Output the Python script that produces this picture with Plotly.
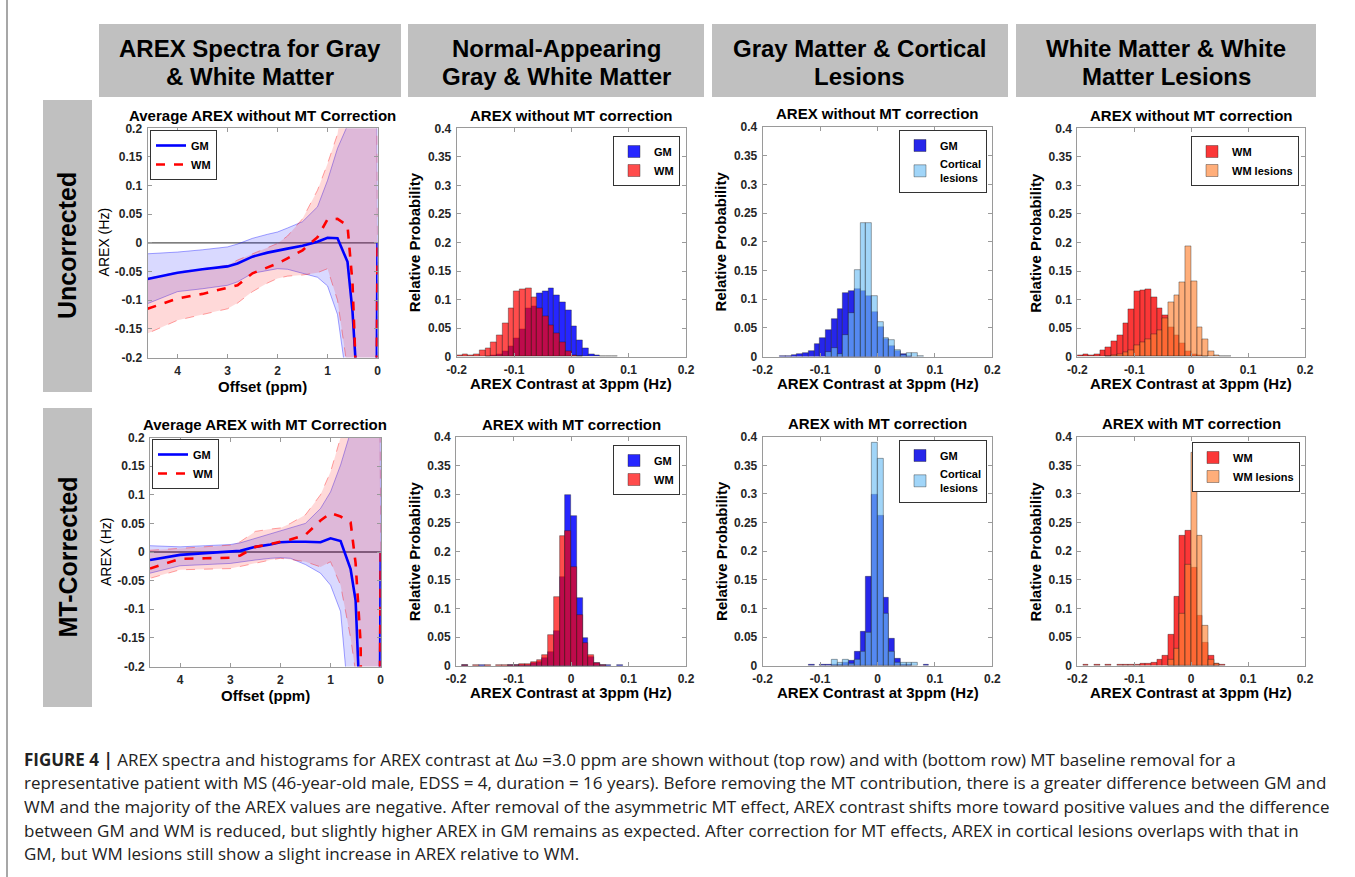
import plotly.graph_objects as go

W, H = 1355, 877
FONT = "Liberation Sans, Arial, sans-serif"
CAP_FONT = "Open Sans, Liberation Sans, Arial, sans-serif"

# ---------------- AREX spectra data (offset in ppm) ----------------
OFFSET_PPM = [4.6, 4.0, 3.5, 3.0, 2.8, 2.5, 2.2, 2.0, 1.8, 1.5, 1.2, 1.0, 0.8, 0.6, 0.5, 0.4, 0.2, 0.0]

GM_MEAN_UNC = [-0.063, -0.052, -0.046, -0.041, -0.036, -0.024, -0.017, -0.013, -0.010, -0.005, 0.002, 0.009, 0.008, -0.033, -0.120, -0.260, -3.0, 0.0]
GM_UPPER_UNC = [-0.019, -0.016, -0.012, -0.007, -0.002, 0.008, 0.015, 0.019, 0.026, 0.037, 0.063, 0.109, 0.165, 0.205, 0.40, 0.80, 5.0, 0.0]
GM_LOWER_UNC = [-0.106, -0.085, -0.080, -0.074, -0.068, -0.053, -0.048, -0.045, -0.046, -0.053, -0.060, -0.075, -0.125, -0.25, -0.45, -0.80, -5.0, 0.0]
WM_MEAN_UNC = [-0.115, -0.097, -0.089, -0.078, -0.074, -0.053, -0.042, -0.036, -0.027, -0.013, 0.010, 0.041, 0.042, 0.030, -0.070, -0.300, -3.0, 0.0]
WM_UPPER_UNC = [-0.062, -0.051, -0.045, -0.039, -0.030, -0.019, -0.008, -0.001, 0.012, 0.042, 0.092, 0.138, 0.190, 0.30, 0.45, 0.80, 5.0, 0.0]
WM_LOWER_UNC = [-0.158, -0.135, -0.125, -0.115, -0.105, -0.085, -0.070, -0.062, -0.058, -0.056, -0.052, -0.045, -0.100, -0.22, -0.45, -0.80, -5.0, 0.0]

GM_MEAN_COR = [-0.014, -0.005, -0.002, 0.000, 0.002, 0.009, 0.013, 0.017, 0.018, 0.018, 0.017, 0.024, 0.019, -0.030, -0.085, -0.300, -3.0, 0.0]
GM_UPPER_COR = [0.011, 0.009, 0.011, 0.013, 0.016, 0.024, 0.032, 0.038, 0.042, 0.050, 0.076, 0.105, 0.152, 0.21, 0.40, 0.80, 5.0, 0.0]
GM_LOWER_COR = [-0.037, -0.024, -0.022, -0.020, -0.018, -0.014, -0.011, -0.010, -0.011, -0.022, -0.037, -0.058, -0.104, -0.30, -0.45, -0.80, -5.0, 0.0]
WM_MEAN_COR = [-0.029, -0.012, -0.011, -0.010, -0.006, 0.009, 0.014, 0.018, 0.022, 0.030, 0.055, 0.068, 0.062, 0.052, -0.020, -0.160, -3.0, 0.0]
WM_UPPER_COR = [0.003, 0.006, 0.009, 0.012, 0.018, 0.036, 0.040, 0.042, 0.050, 0.065, 0.100, 0.140, 0.200, 0.30, 0.45, 0.80, 5.0, 0.0]
WM_LOWER_COR = [-0.046, -0.031, -0.030, -0.029, -0.026, -0.020, -0.014, -0.011, -0.013, -0.017, -0.026, -0.017, -0.058, -0.15, -0.21, -0.80, -5.0, 0.0]

# ---------------- Histogram data (bin left edges, bin width 0.01 Hz) ----------------
BIN_LEFT = [-0.20, -0.19, -0.18, -0.17, -0.16, -0.15, -0.14, -0.13, -0.12, -0.11,
            -0.10, -0.09, -0.08, -0.07, -0.06, -0.05, -0.04, -0.03, -0.02, -0.01,
            0.00, 0.01, 0.02, 0.03, 0.04, 0.05, 0.06, 0.07, 0.08, 0.09]
BIN_WIDTH = 0.01

# Normal-appearing GM / WM
NA_GM_UNC = [0, 0, 0, 0, 0, 0.001, 0.002, 0.005, 0.010, 0.018, 0.032, 0.048, 0.084, 0.088, 0.111, 0.114, 0.120, 0.108, 0.096, 0.081, 0.053, 0.029, 0.015, 0.005, 0.002, 0.001, 0.001, 0.001, 0, 0]
NA_WM_UNC = [0.002, 0.005, 0.003, 0.005, 0.012, 0.015, 0.026, 0.038, 0.058, 0.084, 0.115, 0.118, 0.119, 0.104, 0.084, 0.071, 0.055, 0.041, 0.025, 0.009, 0.003, 0.001, 0, 0, 0, 0, 0, 0, 0, 0]
NA_GM_COR = [0, 0.001, 0, 0, 0.001, 0, 0, 0, 0, 0.001, 0.001, 0.002, 0.002, 0.004, 0.007, 0.014, 0.024, 0.060, 0.155, 0.298, 0.262, 0.118, 0.048, 0.015, 0.004, 0.002, 0.001, 0, 0.001, 0]
NA_WM_COR = [0, 0.001, 0, 0.001, 0, 0.001, 0, 0.001, 0.001, 0.002, 0.002, 0.003, 0.003, 0.006, 0.010, 0.018, 0.054, 0.120, 0.227, 0.236, 0.172, 0.088, 0.040, 0.018, 0.004, 0.002, 0, 0, 0, 0]

# GM / cortical lesions
GC_GM_UNC = [0, 0, 0, 0.001, 0.001, 0.002, 0.004, 0.006, 0.010, 0.021, 0.032, 0.047, 0.065, 0.083, 0.110, 0.114, 0.118, 0.115, 0.105, 0.078, 0.052, 0.030, 0.019, 0.010, 0.004, 0.001, 0, 0, 0, 0]
CL_UNC = [0, 0, 0, 0, 0, 0, 0, 0, 0, 0, 0, 0.008, 0.015, 0.004, 0.038, 0.075, 0.150, 0.232, 0.232, 0.106, 0.060, 0.033, 0.029, 0.012, 0.003, 0.006, 0.006, 0.001, 0, 0]
GC_GM_COR = [0, 0, 0, 0, 0, 0, 0, 0, 0.001, 0, 0.001, 0.001, 0.001, 0.002, 0.005, 0.009, 0.024, 0.060, 0.155, 0.298, 0.262, 0.118, 0.048, 0.013, 0.002, 0.001, 0, 0, 0.001, 0]
CL_COR = [0, 0, 0, 0, 0, 0, 0, 0, 0, 0, 0, 0, 0.010, 0.005, 0.010, 0.004, 0.010, 0.024, 0.058, 0.390, 0.362, 0.091, 0.024, 0.006, 0.006, 0.006, 0.006, 0, 0, 0]

# WM / WM lesions
WW_WM_UNC = [0.002, 0.004, 0.002, 0.005, 0.011, 0.016, 0.027, 0.038, 0.058, 0.083, 0.115, 0.117, 0.118, 0.104, 0.085, 0.072, 0.052, 0.038, 0.024, 0.010, 0.005, 0.003, 0.001, 0, 0, 0, 0, 0, 0, 0]
WML_UNC = [0, 0, 0, 0, 0, 0.001, 0.002, 0.004, 0.007, 0.012, 0.020, 0.026, 0.030, 0.040, 0.047, 0.068, 0.095, 0.107, 0.130, 0.194, 0.132, 0.052, 0.030, 0.010, 0.003, 0.001, 0.001, 0, 0, 0]
WW_WM_COR = [0, 0.001, 0, 0.001, 0, 0.001, 0, 0.001, 0.001, 0.002, 0.002, 0.003, 0.003, 0.006, 0.010, 0.018, 0.054, 0.120, 0.227, 0.236, 0.172, 0.088, 0.040, 0.018, 0.004, 0.002, 0, 0, 0, 0]
WML_COR = [0, 0, 0, 0, 0, 0, 0, 0, 0, 0, 0, 0, 0, 0, 0, 0, 0.010, 0.030, 0.090, 0.177, 0.372, 0.227, 0.070, 0.010, 0.003, 0, 0, 0, 0, 0]

# ---------------- text ----------------
HEADERS = [("AREX Spectra for Gray", "& White Matter"), ("Normal-Appearing", "Gray & White Matter"),
           ("Gray Matter & Cortical", "Lesions"), ("White Matter & White", "Matter Lesions")]
ROW_LABELS = ["Uncorrected", "MT-Corrected"]
PANEL_TITLES = ["Average AREX without MT Correction", "AREX without MT correction",
                "AREX without MT correction", "AREX without MT correction",
                "Average AREX with MT Correction", "AREX with MT correction",
                "AREX with MT correction", "AREX with MT correction"]
CAPTION = [
    "<b>FIGURE 4 |</b> AREX spectra and histograms for AREX contrast at \u0394\u03c9 =3.0 ppm are shown without (top row) and with (bottom row) MT baseline removal for a",
    "representative patient with MS (46-year-old male, EDSS = 4, duration = 16 years). Before removing the MT contribution, there is a greater difference between GM and",
    "WM and the majority of the AREX values are negative. After removal of the asymmetric MT effect, AREX contrast shifts more toward positive values and the difference",
    "between GM and WM is reduced, but slightly higher AREX in GM remains as expected. After correction for MT effects, AREX in cortical lesions overlaps with that in",
    "GM, but WM lesions still show a slight increase in AREX relative to WM.",
]
SPEC_YTICKS = [-0.2, -0.15, -0.1, -0.05, 0, 0.05, 0.1, 0.15, 0.2]
SPEC_YTICKTEXT = ["-0.2", "-0.15", "-0.1", "-0.05", "0", "0.05", "0.1", "0.15", "0.2"]
SPEC_XTICKS = [4, 3, 2, 1, 0]
HIST_YTICKS = [0, 0.05, 0.1, 0.15, 0.2, 0.25, 0.3, 0.35, 0.4]
HIST_YTICKTEXT = ["0", "0.05", "0.1", "0.15", "0.2", "0.25", "0.3", "0.35", "0.4"]
HIST_XTICKS = [-0.2, -0.1, 0, 0.1, 0.2]
HIST_XTICKTEXT = ["-0.2", "-0.1", "0", "0.1", "0.2"]

# ---------------- layout geometry (pixels) ----------------
BOXES = {
    1: (147.5, 377.5, 128.3, 357.5),
    2: (456.7, 686.0, 128.3, 356.7),
    3: (762.7, 992.3, 127.0, 356.5),
    4: (1077.3, 1305.0, 128.3, 356.7),
    5: (150.0, 380.7, 437.5, 666.5),
    6: (456.0, 686.0, 437.0, 665.7),
    7: (762.7, 992.3, 436.7, 665.7),
    8: (1077.3, 1305.0, 436.7, 665.7),
}


def sx(v):
    return v / W


def sy(v):
    return 1 - v / H


def sfx(k):
    return "" if k == 1 else str(k)


fig = go.Figure()

AX_LINE = "#9a9a9a"
TICKFONT = dict(family=FONT, size=12, color="#262626", weight="bold")
layout_axes = {}
for k, (l, r, t, b) in BOXES.items():
    s = sfx(k)
    common = dict(showline=True, linecolor=AX_LINE, linewidth=1, mirror="ticks",
                  ticks="inside", ticklen=4, tickcolor=AX_LINE, showgrid=False,
                  zeroline=False, tickfont=TICKFONT, fixedrange=True, automargin=False)
    if k in (1, 5):
        xa = dict(range=[4.6, 0], tickvals=SPEC_XTICKS, **common)
        ya = dict(range=[-0.2, 0.2], tickvals=SPEC_YTICKS, ticktext=SPEC_YTICKTEXT, **common)
    else:
        xa = dict(range=[-0.2, 0.2], tickvals=HIST_XTICKS, ticktext=HIST_XTICKTEXT, **common)
        ya = dict(range=[0, 0.4], tickvals=HIST_YTICKS, ticktext=HIST_YTICKTEXT, **common)
    xa.update(domain=[sx(l), sx(r)], anchor="y" + s, ticklabelstandoff=2)
    ya.update(domain=[sy(b), sy(t)], anchor="x" + s, ticklabelstandoff=2)
    layout_axes["xaxis" + s] = xa
    layout_axes["yaxis" + s] = ya


def add_spectra(k, gm_mean, gm_up, gm_lo, wm_mean, wm_up, wm_lo, legend_id):
    s = sfx(k)
    ax = dict(xaxis="x" + s, yaxis="y" + s)
    band_x = OFFSET_PPM + OFFSET_PPM[::-1]
    fig.add_trace(go.Scatter(x=band_x, y=gm_up + gm_lo[::-1], mode="lines", fill="toself",
                             fillcolor="rgba(0,0,255,0.15)",
                             line=dict(color="rgba(0,0,255,0.45)", width=0.8),
                             showlegend=False, hoverinfo="skip", **ax))
    fig.add_trace(go.Scatter(x=band_x, y=wm_up + wm_lo[::-1], mode="lines", fill="toself",
                             fillcolor="rgba(255,0,0,0.15)",
                             line=dict(color="rgba(255,0,0,0.45)", width=0.8, dash="dash"),
                             showlegend=False, hoverinfo="skip", **ax))
    fig.add_trace(go.Scatter(x=OFFSET_PPM, y=gm_mean, mode="lines", name="GM",
                             line=dict(color="#0000ff", width=2.6), legend=legend_id, **ax))
    fig.add_trace(go.Scatter(x=OFFSET_PPM, y=wm_mean, mode="lines", name="WM",
                             line=dict(color="#ff0000", width=2.6, dash="dash"),
                             legend=legend_id, **ax))
    fig.add_shape(type="line", xref="x" + s + " domain", yref="y" + s, x0=0, x1=1, y0=0, y1=0,
                  line=dict(color="#555555", width=1.3), layer="below")


EDGE = dict(color="rgba(30,30,30,0.55)", width=0.7)


def add_hist(k, a_vals, a_name, a_color, b_vals, b_name, b_color, legend_id):
    s = sfx(k)
    for vals, name, color in ((a_vals, a_name, a_color), (b_vals, b_name, b_color)):
        fig.add_trace(go.Bar(x=BIN_LEFT, y=[v if v > 0 else None for v in vals],
                             width=BIN_WIDTH, offset=0, name=name,
                             marker=dict(color=color, line=EDGE), legend=legend_id,
                             hoverinfo="skip", xaxis="x" + s, yaxis="y" + s))


BLUE = "rgba(0,0,255,0.85)"
RED = "rgba(255,0,0,0.7)"
DARKBLUE = "rgba(0,0,230,0.85)"
LIGHTBLUE = "rgba(110,190,245,0.65)"
WMRED = "rgba(250,20,20,0.85)"
ORANGE = "rgba(255,130,50,0.65)"

add_spectra(1, GM_MEAN_UNC, GM_UPPER_UNC, GM_LOWER_UNC, WM_MEAN_UNC, WM_UPPER_UNC, WM_LOWER_UNC, "legend")
add_hist(2, NA_GM_UNC, "GM", BLUE, NA_WM_UNC, "WM", RED, "legend2")
add_hist(3, GC_GM_UNC, "GM", DARKBLUE, CL_UNC, "Cortical<br>lesions", LIGHTBLUE, "legend3")
add_hist(4, WW_WM_UNC, "WM", WMRED, WML_UNC, "WM lesions", ORANGE, "legend4")
add_spectra(5, GM_MEAN_COR, GM_UPPER_COR, GM_LOWER_COR, WM_MEAN_COR, WM_UPPER_COR, WM_LOWER_COR, "legend5")
add_hist(6, NA_GM_COR, "GM", BLUE, NA_WM_COR, "WM", RED, "legend6")
add_hist(7, GC_GM_COR, "GM", DARKBLUE, CL_COR, "Cortical<br>lesions", LIGHTBLUE, "legend7")
add_hist(8, WW_WM_COR, "WM", WMRED, WML_COR, "WM lesions", ORANGE, "legend8")

# ---------------- legends ----------------
LEG_POS = {
    "legend": (150, 130, "left"), "legend2": (680, 136, "right"), "legend3": (987, 130, "right"),
    "legend4": (1299, 136, "right"), "legend5": (152, 439, "left"), "legend6": (680, 445, "right"),
    "legend7": (987, 440, "right"), "legend8": (1300, 442, "right"),
}
legends = {}
for lid, (lx, ly, anc) in LEG_POS.items():
    legends[lid] = dict(x=sx(lx), y=sy(ly), xanchor=anc, yanchor="top", bgcolor="white",
                        bordercolor="#333333", borderwidth=1,
                        font=dict(family=FONT, size=11, color="black", weight="bold"),
                        itemwidth=30, tracegroupgap=0)

# ---------------- shapes: header boxes, row boxes, frame ----------------
HEADER_X = [(99, 401), (408, 704), (712, 1008), (1016, 1316)]
ROW_Y = [(100, 392), (408, 707)]
GRAY = "#c0c0c0"
for (x0, x1) in HEADER_X:
    fig.add_shape(type="rect", xref="paper", yref="paper", x0=sx(x0), x1=sx(x1),
                  y0=sy(97), y1=sy(24), fillcolor=GRAY, line=dict(width=0), layer="below")
for (y0, y1) in ROW_Y:
    fig.add_shape(type="rect", xref="paper", yref="paper", x0=sx(43), x1=sx(92),
                  y0=sy(y1), y1=sy(y0), fillcolor=GRAY, line=dict(width=0), layer="below")
fig.add_shape(type="line", xref="paper", yref="paper", x0=sx(7), x1=sx(7), y0=0, y1=1,
              line=dict(color="#8a8a8a", width=1.5))

# ---------------- annotations ----------------
ann = []


def text(x, y, t, size, bold=True, angle=0, xanchor="center", color="black", family=FONT):
    ann.append(dict(x=sx(x), y=sy(y), xref="paper", yref="paper", text=t, showarrow=False,
                    xanchor=xanchor, yanchor="middle", textangle=angle,
                    font=dict(family=family, size=size, color=color,
                              weight="bold" if bold else "normal")))


for (x0, x1), (h1, h2) in zip(HEADER_X, HEADERS):
    text((x0 + x1) / 2, 48, h1, 24)
    text((x0 + x1) / 2, 76, h2, 24)
for (y0, y1), lab in zip(ROW_Y, ROW_LABELS):
    text(67, (y0 + y1) / 2, lab, 25, angle=-90)

for k, (l, r, t, b) in BOXES.items():
    cx, cy = (l + r) / 2, (t + b) / 2
    text(cx, t - 13, PANEL_TITLES[k - 1], 15)
    if k in (1, 5):
        text(cx, b + 29, "Offset (ppm)", 15)
        text(l - 44, cy, "AREX (Hz)", 14, bold=False, angle=-90)
    else:
        text(cx, b + 27, "AREX Contrast at 3ppm (Hz)", 15)
        text(l - 42, cy, "Relative Probability", 15, angle=-90)

CAP_Y = [759, 782, 806, 830, 853]
for yv, line in zip(CAP_Y, CAPTION):
    text(22, yv, line, 17, bold=False, xanchor="left", color="#222222", family=CAP_FONT)

fig.update_layout(
    width=W, height=H, margin=dict(l=0, r=0, t=0, b=0, autoexpand=False),
    paper_bgcolor="white", plot_bgcolor="white",
    barmode="overlay", bargap=0,
    annotations=ann,
    font=dict(family=FONT),
    **layout_axes, **legends,
)

fig.write_html("out.html", config={"displayModeBar": False},
               post_script="document.body.style.margin='0';document.body.style.padding='0';")
